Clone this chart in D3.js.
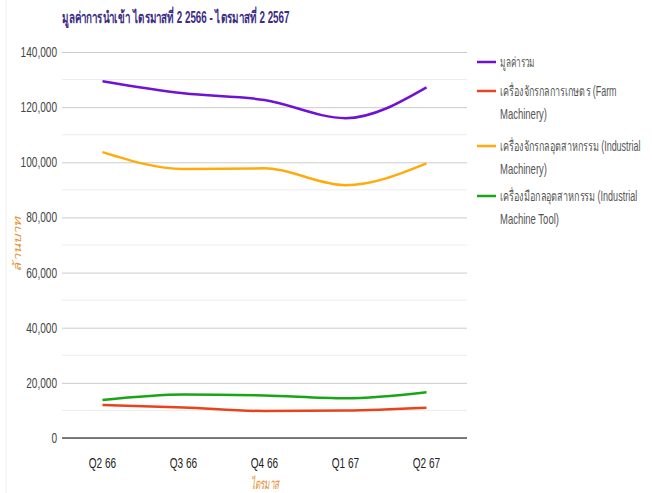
<!DOCTYPE html>
<html>
<head>
<meta charset="utf-8">
<script src="https://cdn.jsdelivr.net/npm/d3@7"></script>
<style>
  body { margin: 0; background: #fff; }
  text { font-family: "Liberation Sans", Arial, sans-serif; }
</style>
</head>
<body>
<div id="chart"></div>
<script>
// quarters on the x axis
var quarters = ["Q2 66", "Q3 66", "Q4 66", "Q1 67", "Q2 67"];

// import values, million baht
var totalValues    = [129400, 125000, 122600, 116000, 127200];
var farmValues     = [12000, 11100, 9800, 10000, 11000];
var industValues   = [103700, 97600, 97800, 91700, 99600];
var toolValues     = [13800, 15800, 15400, 14400, 16600];

var seriesNames = [
  ["มูลค่ารวม"],
  ["เครื่องจักรกลการเกษตร (Farm", "Machinery)"],
  ["เครื่องจักรกลอุตสาหกรรม (Industrial", "Machinery)"],
  ["เครื่องมือกลอุตสาหกรรม (Industrial", "Machine Tool)"]
];
var seriesColors = ["#6f12d6", "#e8431b", "#ffab0d", "#1aa514"];
var yTicks = [0, 20000, 40000, 60000, 80000, 100000, 120000, 140000];

var series = [totalValues, farmValues, industValues, toolValues];

// the whole chart is horizontally squeezed, so text is narrowed
var SX = 0.72;
// widths the squeezed legend lines take in the picture
var legendWidths = [[35], [117, 47], [141, 47], [137, 59]];

var W = 652, H = 493;
var margin = {top: 52, left: 62, right: 185, bottom: 55};
var width = W - margin.left - margin.right,
    height = H - margin.top - margin.bottom;

var svg = d3.select("#chart").append("svg")
    .attr("width", W)
    .attr("height", H);

// text squeezed (scaled on x) so it takes a given width
function fitText(parent, px, py, str, len, styles) {
  var t = parent.append("text").text(str);
  for (var k in styles) t.style(k, styles[k]);
  var natural = t.node().getComputedTextLength();
  t.attr("transform", "translate(" + px + "," + py + ") scale(" + (len / natural) + ",1)");
  return t;
}

// faint border on the left
svg.append("line")
    .attr("x1", 6).attr("x2", 6).attr("y1", 0).attr("y2", H)
    .style("stroke", "#eeeeee");

var g = svg.append("g")
    .attr("transform", "translate(" + margin.left + "," + margin.top + ")");

var x = d3.scaleBand().domain(quarters).range([0, width]);
var y = d3.scaleLinear().domain([0, 140000]).range([height, 0]);

// minor gridlines
g.selectAll(".minor")
  .data(d3.range(10000, 140000, 20000))
  .enter().append("line")
    .attr("x1", 0).attr("x2", width)
    .attr("y1", function(d) { return y(d); })
    .attr("y2", function(d) { return y(d); })
    .style("stroke", "#ececec");

// Y axis with gridlines
var yAxis = g.append("g")
    .call(d3.axisLeft(y).tickValues(yTicks).tickSize(-width).tickFormat(d3.format(",")));
yAxis.select(".domain").remove();
yAxis.selectAll(".tick line").style("stroke", "#cccccc");
yAxis.selectAll(".tick text")
    .attr("x", -5 / SX)
    .attr("transform", "scale(" + SX + ",1)")
    .style("font-family", "Liberation Sans, Arial, sans-serif")
    .style("font-size", "14px")
    .style("fill", "#444");

// baseline
g.append("line")
    .attr("x1", 0).attr("x2", width)
    .attr("y1", y(0)).attr("y2", y(0))
    .style("stroke", "#555")
    .style("stroke-width", 1.3);

// X axis
var xAxis = g.append("g")
    .attr("transform", "translate(0," + height + ")")
    .call(d3.axisBottom(x).tickSize(0));
xAxis.select(".domain").remove();
xAxis.selectAll(".tick text")
    .attr("dy", "1.9em")
    .attr("transform", "scale(" + SX + ",1)")
    .style("font-family", "Liberation Sans, Arial, sans-serif")
    .style("font-size", "14px")
    .style("fill", "#222");

// lines
var line = d3.line()
    .x(function(d, i) { return x(quarters[i]) + x.bandwidth() / 2; })
    .y(function(d) { return y(d); })
    .curve(d3.curveMonotoneX);

series.forEach(function(vals, i) {
  g.append("path")
    .datum(vals)
    .attr("fill", "none")
    .attr("stroke", seriesColors[i])
    .attr("stroke-width", 2.5)
    .attr("d", line);
});

// title
fitText(svg, 62, 23, "มูลค่าการนำเข้า ไตรมาสที่ 2 2566 - ไตรมาสที่ 2 2567", 230,
  {"font-size": "16px", "font-weight": "bold", "fill": "#3b2c85"});

// axis titles
svg.append("text")
    .attr("transform", "translate(21,244) rotate(-90) scale(1," + SX + ")")
    .style("text-anchor", "middle")
    .style("font-size", "15px")
    .style("font-style", "italic")
    .style("fill", "#e69138")
    .text("ล้านบาท");

fitText(svg, margin.left + width / 2 - 14, 489, "ไตรมาส", 29,
  {"font-size": "15px", "font-style": "italic", "fill": "#e69138"});

// legend
var legendY = [62, 91, 146, 196];
seriesNames.forEach(function(lines, i) {
  var lg = svg.append("g").attr("transform", "translate(477," + legendY[i] + ")");
  lg.append("line")
    .attr("x1", 0).attr("x2", 19).attr("y1", 0).attr("y2", 0)
    .style("stroke", seriesColors[i])
    .style("stroke-width", 2.5);
  lines.forEach(function(t, j) {
    fitText(lg, 23, j * 23 + 5, t, legendWidths[i][j],
      {"font-size": "14px", "fill": "#555"});
  });
});
</script>
</body>
</html>
